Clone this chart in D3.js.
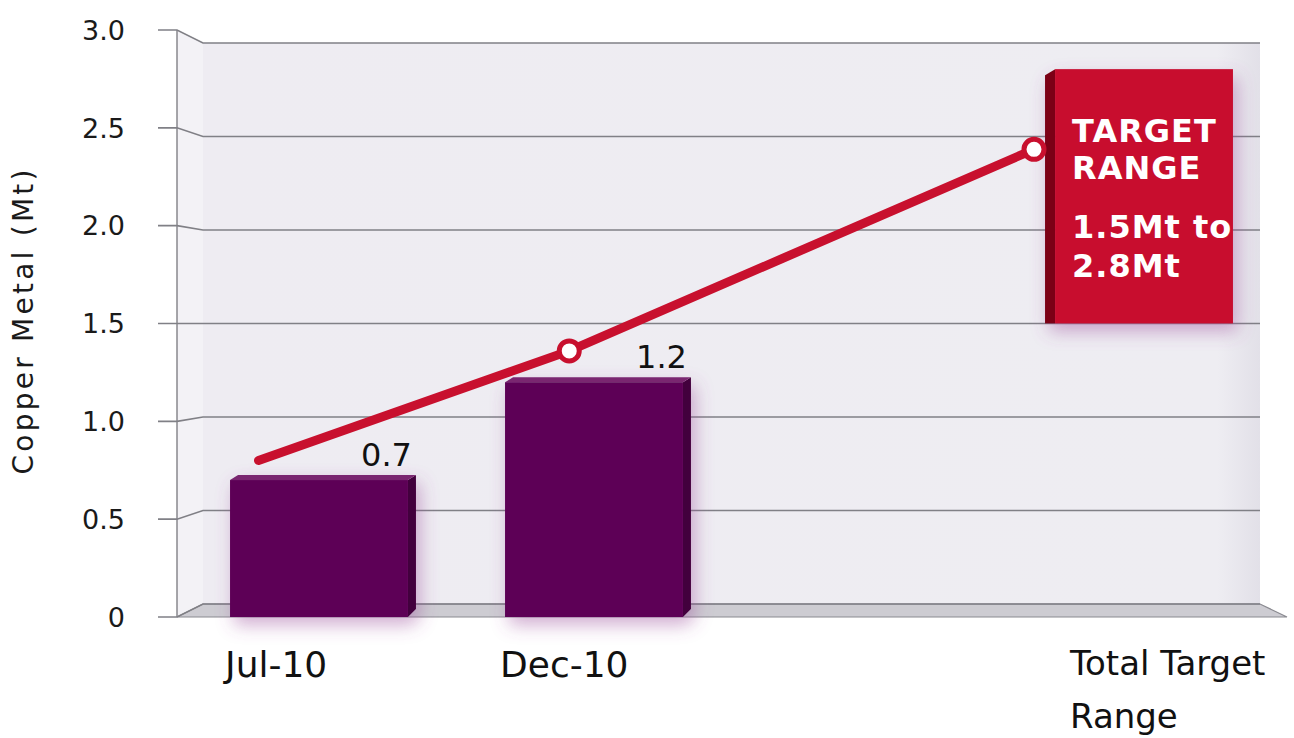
<!DOCTYPE html>
<html>
<head>
<meta charset="utf-8">
<script src="https://cdn.jsdelivr.net/npm/d3@7"></script>
<style>
  body { margin: 0; background: #fff; }
  svg { display: block; }
  text { font-family: "DejaVu Sans", sans-serif; }
</style>
</head>
<body>
<div id="chart"></div>
<script>
// Data
const categories = ['Jul-10', 'Dec-10', 'Total Target Range'];
const categoryIndex = [0, 1, 3];          // slot 2 is left empty
const barValues = [0.7, 1.2];
const targetRange = [1.5, 2.8];
const targetLines = ['TARGET', 'RANGE', '1.5Mt to', '2.8Mt'];
const lineX = [-0.22, 0.91, 2.6];          // in category slots
const lineY = [0.8, 1.36, 2.39];
const yTicks = [0, 0.5, 1.0, 1.5, 2.0, 2.5, 3.0];

const width = 1294, height = 738;

const svg = d3.select('#chart').append('svg')
    .attr('width', width)
    .attr('height', height);

// Scales: front plane (bars) and back wall (grid), slight perspective
const yFront = d3.scaleLinear().domain([0, 3]).range([617, 30]);
const yBack = d3.scaleLinear().domain([0, 3]).range([604, 43]);
const x = d3.scaleLinear().domain([0, 3]).range([319, 1144]);
const bw = (x(1) - x(0)) * 0.647;
const depth = 8;

const wallLeft = 177, wallBack = 203, wallRight = 1260, floorRight = 1287;

const defs = svg.append('defs');
const glow = defs.append('filter').attr('id', 'glow')
    .attr('x', '-30%').attr('y', '-30%').attr('width', '160%').attr('height', '160%');
glow.append('feDropShadow')
    .attr('dx', 4).attr('dy', 8).attr('stdDeviation', 9)
    .attr('flood-color', '#9a4a9a').attr('flood-opacity', 0.45);

const wallGrad = defs.append('linearGradient').attr('id', 'wall')
    .attr('x1', 0).attr('x2', 1).attr('y1', 0).attr('y2', 0);
wallGrad.append('stop').attr('offset', '0%').attr('stop-color', '#eeecf2');
wallGrad.append('stop').attr('offset', '96%').attr('stop-color', '#eeedf2');
wallGrad.append('stop').attr('offset', '100%').attr('stop-color', '#e2e0e8');

// Back wall and left side
svg.append('rect')
    .attr('x', wallBack).attr('y', yBack(3))
    .attr('width', wallRight - wallBack).attr('height', yBack(0) - yBack(3))
    .attr('fill', 'url(#wall)');

svg.append('polygon')
    .attr('points', [[wallLeft, yFront(3)], [wallBack, yBack(3)], [wallBack, yBack(0)], [wallLeft, yFront(0)]].join(' '))
    .attr('fill', '#f3f2f6');

// Floor
svg.append('polygon')
    .attr('points', [[wallLeft, yFront(0)], [wallBack, yBack(0)], [wallRight, yBack(0)], [floorRight, yFront(0)]].join(' '))
    .attr('fill', '#cdccd2')
    .attr('stroke', '#8a8a90')
    .attr('stroke-width', 1.2);

// Grid lines with stub, bend and back line
svg.append('g')
    .selectAll('polyline')
    .data(yTicks)
    .enter()
    .append('polyline')
    .attr('points', d => [[158, yFront(d)], [wallLeft, yFront(d)], [wallBack, yBack(d)], [wallRight, yBack(d)]].join(' '))
    .attr('fill', 'none')
    .attr('stroke', '#808086')
    .attr('stroke-width', 1.6);

svg.append('line')
    .attr('x1', wallLeft).attr('x2', wallLeft)
    .attr('y1', yFront(3)).attr('y2', yFront(0))
    .attr('stroke', '#808086')
    .attr('stroke-width', 1.4);

// Y tick labels
svg.append('g')
    .selectAll('text')
    .data(yTicks)
    .enter()
    .append('text')
    .attr('x', 125)
    .attr('y', d => yFront(d))
    .attr('dy', '0.36em')
    .attr('text-anchor', 'end')
    .attr('fill', '#1a1a1a')
    .style('font-size', '27px')
    .text(d => d === 0 ? '0' : d3.format('.1f')(d));

// Y axis title
svg.append('text')
    .attr('transform', 'translate(33,322) rotate(-90)')
    .attr('text-anchor', 'middle')
    .attr('fill', '#1a1a1a')
    .style('font-size', '28px')
    .attr('textLength', 305)
    .attr('lengthAdjust', 'spacing')
    .text('Copper Metal (Mt)');

// Bars
const bars = svg.append('g').selectAll('g')
    .data(barValues)
    .enter()
    .append('g')
    .style('filter', 'url(#glow)');

bars.append('polygon')
    .attr('points', (d, i) => {
        const x1 = x(categoryIndex[i]) + bw / 2;
        return [[x1, yFront(d)], [x1 + depth, yFront(d) - 5], [x1 + depth, yFront(0) - 8], [x1, yFront(0)]].join(' ');
    })
    .attr('fill', '#43003d');

bars.append('polygon')
    .attr('points', (d, i) => {
        const x0 = x(categoryIndex[i]) - bw / 2;
        const x1 = x0 + bw;
        return [[x0, yFront(d)], [x0 + depth, yFront(d) - 5], [x1 + depth, yFront(d) - 5], [x1, yFront(d)]].join(' ');
    })
    .attr('fill', '#7a2670');

bars.append('rect')
    .attr('x', (d, i) => x(categoryIndex[i]) - bw / 2)
    .attr('y', d => yFront(d))
    .attr('width', bw)
    .attr('height', d => yFront(0) - yFront(d))
    .attr('fill', '#5d0056');

// Bar value labels
svg.append('g')
    .selectAll('text')
    .data(barValues)
    .enter()
    .append('text')
    .attr('x', (d, i) => x(categoryIndex[i]) + bw / 2 + 4)
    .attr('y', d => yFront(d) - 14)
    .attr('text-anchor', 'end')
    .attr('fill', '#111')
    .style('font-size', '32px')
    .text(d => d3.format('.1f')(d));

// Target range box
const tx = x(categoryIndex[2]);
const box = svg.append('g').style('filter', 'url(#glow)');
box.append('polygon')
    .attr('points', [[tx - bw / 2 - 10, yFront(targetRange[1]) + 6], [tx - bw / 2, yFront(targetRange[1])],
        [tx - bw / 2, yFront(targetRange[0])], [tx - bw / 2 - 10, yFront(targetRange[0])]].join(' '))
    .attr('fill', '#7c0614');
box.append('rect')
    .attr('x', tx - bw / 2)
    .attr('y', yFront(targetRange[1]))
    .attr('width', bw)
    .attr('height', yFront(targetRange[0]) - yFront(targetRange[1]))
    .attr('fill', '#c8102e');

// bold text in the box
const boxTextY = [142, 179, 238, 277];
const boxLeft = tx - bw / 2 + 17;
svg.append('g')
    .selectAll('text')
    .data(targetLines)
    .enter()
    .append('text')
    .attr('x', boxLeft)
    .attr('y', (d, i) => boxTextY[i])
    .attr('fill', '#fff')
    .style('font-size', '32px')
    .style('font-weight', 'bold')
    .style('letter-spacing', '1px')
    .text(d => d);

// Line
const pts = lineX.map((v, i) => [x(v), yFront(lineY[i])]);
svg.append('path')
    .attr('d', d3.line()(pts))
    .attr('fill', 'none')
    .attr('stroke', '#c8102e')
    .attr('stroke-width', 9)
    .attr('stroke-linecap', 'round');

svg.append('g')
    .selectAll('circle')
    .data(pts.slice(1))
    .enter()
    .append('circle')
    .attr('cx', d => d[0])
    .attr('cy', d => d[1])
    .attr('r', 10)
    .attr('fill', '#fff')
    .attr('stroke', '#c8102e')
    .attr('stroke-width', 5);

// X labels
const xl = svg.append('g');
categories.forEach((c, i) => {
    const left = x(categoryIndex[i]) - bw / 2;
    if (i < 2) {
        xl.append('text')
            .attr('x', left - 5)
            .attr('y', 677)
            .attr('fill', '#111')
            .style('font-size', '36px')
            .text(c);
    } else {
        const t = xl.append('text')
            .attr('x', left + 15)
            .attr('y', 675)
            .attr('fill', '#111')
            .style('font-size', '34px');
        t.append('tspan').text('Total Target');
        t.append('tspan').attr('x', left + 15).attr('dy', 53).text('Range');
    }
});
</script>
</body>
</html>
